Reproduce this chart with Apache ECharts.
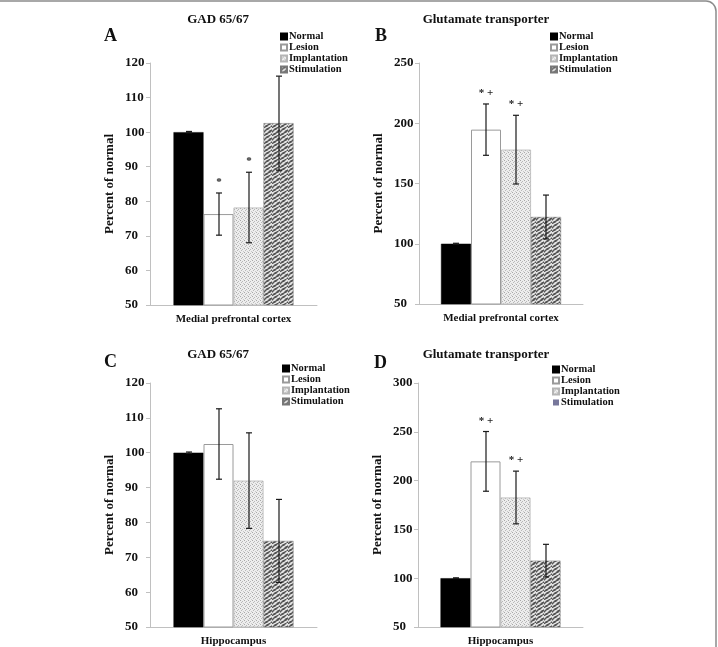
<!DOCTYPE html>
<html>
<head>
<meta charset="utf-8">
<script src="https://cdn.jsdelivr.net/npm/echarts@6/dist/echarts.min.js"></script>
<style>
html, body {margin:0; padding:0; background:#fff;}
#main {width:718px; height:647px;}
</style>
</head>
<body>
<div id="main"></div>
<script>
// data
var groups = ['Normal', 'Lesion', 'Implantation', 'Stimulation'];
var catTop = ['Medial prefrontal cortex'];
var catBottom = ['Hippocampus'];

var gadMpfc = [100, 76.3, 78.2, 102.6];
var gadMpfcErr = [0.2, 6.1, 10.2, 13.6];
var gadMpfcMark = ['', '*', '*', ''];

var gltMpfc = [100, 194.7, 178.1, 122.2];
var gltMpfcErr = [0.4, 21.3, 28.5, 18.2];
var gltMpfcMark = ['', '* +', '* +', ''];

var gadHip = [100, 102.5, 92.0, 74.7];
var gadHipErr = [0.2, 10.1, 13.7, 11.9];
var gadHipMark = ['', '', '', ''];

var gltHip = [100, 219.7, 182.7, 118.0];
var gltHipErr = [0.4, 30.6, 27.0, 16.7];
var gltHipMark = ['', '* +', '* +', ''];

var yTop = {min: 50, max: 120, interval: 10};
var yB = {min: 50, max: 250, interval: 50};
var yD = {min: 50, max: 300, interval: 50};

var FONT = 'Liberation Serif';

// fill patterns (cells of 'cell' px)
function makePattern(cell, rows, pal) {
    var c = document.createElement('canvas');
    c.width = rows[0].length * cell; c.height = rows.length * cell;
    var ctx = c.getContext('2d');
    for (var r = 0; r < rows.length; r++) {
        for (var k = 0; k < rows[r].length; k++) {
            ctx.fillStyle = pal[rows[r][k]];
            ctx.fillRect(k * cell, r * cell, cell, cell);
        }
    }
    return {image: c, repeat: 'repeat'};
}
var implantFill = makePattern(1, ['dbbb', 'bbmb', 'bmbb', 'bbbl'],
    {b: '#ededed', d: '#a8a8a8', m: '#b8b8b8', l: '#c8c8c8'});
var stimFill = makePattern(1, [
    'wwgddgww',
    'wgddgwwg',
    'gdgwwgdd',
    'dgwwgddg',
    'gwwgddgw',
    'wgddgwwg',
    'gddgwwgd',
    'dgwwgdgw'
], {w: '#e2e2e2', d: '#555555', g: '#9a9a9a'});

var barStyles = [
    {color: '#000', borderColor: '#000', borderWidth: 0.5},
    {color: '#fff', borderColor: '#9a9a9a', borderWidth: 1},
    {color: implantFill, borderColor: '#b5b5b5', borderWidth: 0.8},
    {color: stimFill, borderColor: '#777', borderWidth: 0.5}
];

var grids = [
    {left: 150, top: 63, width: 167, height: 242},
    {left: 419, top: 63, width: 164, height: 241},
    {left: 150, top: 383, width: 167, height: 250},
    {left: 418, top: 383, width: 165, height: 250}
];
var panels = [
    {vals: gadMpfc, err: gadMpfcErr, mark: gadMpfcMark, cat: catTop, y: yTop},
    {vals: gltMpfc, err: gltMpfcErr, mark: gltMpfcMark, cat: catTop, y: yB},
    {vals: gadHip, err: gadHipErr, mark: gadHipMark, cat: catBottom, y: yTop},
    {vals: gltHip, err: gltHipErr, mark: gltHipMark, cat: catBottom, y: yD}
];

var xAxes = [], yAxes = [], series = [];
panels.forEach(function (p, g) {
    xAxes.push({
        type: 'category', gridIndex: g, data: p.cat,
        axisLine: {lineStyle: {color: '#c0c0c0', width: 1}},
        axisTick: {show: false},
        axisLabel: {color: '#111', fontFamily: FONT, fontWeight: 'bold', fontSize: 11, margin: 9}
    });
    yAxes.push({
        type: 'value', gridIndex: g, min: p.y.min, max: p.y.max, interval: p.y.interval,
        name: 'Percent of normal', nameLocation: 'middle', nameGap: 34,
        nameTextStyle: {color: '#111', fontFamily: FONT, fontWeight: 'bold', fontSize: 13},
        splitLine: {show: false},
        axisLine: {show: true, lineStyle: {color: '#c0c0c0', width: 1}},
        axisTick: {show: true, length: 4, lineStyle: {color: '#c0c0c0'}},
        axisLabel: {color: '#111', fontFamily: FONT, fontWeight: 'bold', fontSize: 13, margin: 25, align: 'left'}
    });
    groups.forEach(function (name, i) {
        series.push({
            name: name, type: 'bar', xAxisIndex: g, yAxisIndex: g,
            barWidth: 30, barGap: '0%',
            itemStyle: barStyles[i],
            data: [p.vals[i]],
            silent: true, animation: false
        });
    });
    // error bars + significance marks
    var eb = p.vals.map(function (v, i) { return [0, v, p.err[i], i]; });
    series.push({
        type: 'custom', xAxisIndex: g, yAxisIndex: g, clip: false, silent: true, animation: false,
        z: 5,
        data: eb,
        renderItem: function (params, api) {
            var v = api.value(1), e = api.value(2), i = api.value(3);
            var c = api.coord([0, v]);
            var x = Math.round(c[0] + (i - 1.5) * 30);
            var yt = api.coord([0, v + e])[1];
            var yb = api.coord([0, v - e])[1];
            var st = {stroke: '#1a1a1a', lineWidth: 1.2};
            var kids = [
                {type: 'line', shape: {x1: x, y1: yt, x2: x, y2: yb}, style: st},
                {type: 'line', shape: {x1: x - 3, y1: yt, x2: x + 3, y2: yt}, style: st},
                {type: 'line', shape: {x1: x - 3, y1: yb, x2: x + 3, y2: yb}, style: st}
            ];
            var m = p.mark[i];
            if (m) {
                kids.push({type: 'text', style: {
                    text: m, x: x, y: Math.round(yt - 16), align: 'center', verticalAlign: 'top',
                    fill: '#222', font: 'bold 11px ' + FONT
                }});
            }
            return {type: 'group', children: kids};
        }
    });
});

function legendAt(left, top, stimColor) {
    var d = groups.map(function (n) { return {name: n}; });
    if (stimColor) d[3].itemStyle = {color: stimColor, borderWidth: 0};
    return {
        left: left, top: top, orient: 'vertical', icon: 'rect',
        itemWidth: 6, itemHeight: 6, itemGap: 0, selectedMode: false,
        padding: 0,
        textStyle: {color: '#111', fontFamily: FONT, fontWeight: 'bold', fontSize: 10.5,
            lineHeight: 11, padding: [0, 0, 0, -3]},
        data: d
    };
}

var titleStyle = {color: '#111', fontFamily: FONT, fontWeight: 'bold', fontSize: 13};
var letterStyle = {color: '#111', fontFamily: FONT, fontWeight: 'bold', fontSize: 18};

var option = {
    backgroundColor: '#fff',
    animation: false,
    title: [
        {text: 'GAD 65/67', left: 213, top: 8, textAlign: 'center', textStyle: titleStyle},
        {text: 'Glutamate transporter', left: 481, top: 8, textAlign: 'center', textStyle: titleStyle},
        {text: 'GAD 65/67', left: 213, top: 343, textAlign: 'center', textStyle: titleStyle},
        {text: 'Glutamate transporter', left: 481, top: 343, textAlign: 'center', textStyle: titleStyle},
        {text: 'A', left: 99, top: 22, textStyle: letterStyle},
        {text: 'B', left: 370, top: 22, textStyle: letterStyle},
        {text: 'C', left: 99, top: 348, textStyle: letterStyle},
        {text: 'D', left: 369, top: 349, textStyle: letterStyle}
    ],
    legend: [
        legendAt(280, 31),
        legendAt(550, 31),
        legendAt(282, 363),
        legendAt(552, 364, '#77779b')
    ],
    grid: grids,
    xAxis: xAxes,
    yAxis: yAxes,
    series: series,
    graphic: [{
        type: 'rect', silent: true,
        shape: {x: -20, y: 1, width: 736, height: 720, r: 10},
        style: {fill: 'none', stroke: '#8c8c8c', lineWidth: 1.5}
    }]
};

var myChart = echarts.init(document.getElementById('main'));
myChart.setOption(option, true);
</script>
</body>
</html>
